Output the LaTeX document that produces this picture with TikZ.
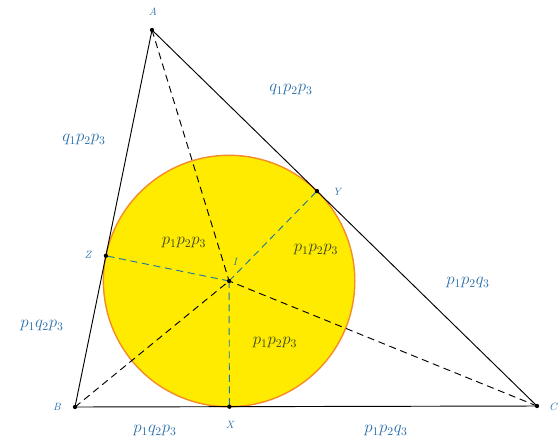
\documentclass[tikz,border=0pt]{standalone}
\usetikzlibrary{calc}
\definecolor{lblue}{RGB}{40,110,170}
\definecolor{dblue}{RGB}{30,120,160}
\definecolor{inlab}{RGB}{60,70,30}
\definecolor{circfill}{RGB}{255,235,0}
\definecolor{circedge}{RGB}{245,140,40}
\begin{document}
\begin{tikzpicture}[x=0.03cm,y=-0.03cm,
  dot/.style={circle,fill=black,inner sep=1.3pt},
  vlab/.style={text=lblue,font=\small\itshape},
  outlab/.style={text=lblue,font=\Large},
  inlab/.style={text=inlab,font=\Large},
  bdash/.style={dashed,dash pattern=on 6pt off 4pt,thick},
  cdash/.style={dashed,dash pattern=on 6pt off 4pt,thick,dblue}]
\useasboundingbox (0,0) rectangle (558,439);
\coordinate (A) at (152,30);
\coordinate (B) at (75,407);
\coordinate (C) at (537,406);
\coordinate (I) at (229.1,281);
\coordinate (X) at ($(B)!(I)!(C)$);
\coordinate (Y) at ($(C)!(I)!(A)$);
\coordinate (Z) at ($(A)!(I)!(B)$);
\fill[circfill,draw=circedge,line width=1.2pt] (I) circle (125.7);
\draw[thick] (A) -- (B) -- (C) -- cycle;
\draw[bdash] (A) -- (I);
\draw[bdash] (B) -- (I);
\draw[bdash] (C) -- (I);
\draw[cdash] (I) -- (X);
\draw[cdash] (I) -- (Y);
\draw[cdash] (I) -- (Z);
\foreach \p in {A,B,C,X,Y,Z,I} \node[dot] (d\p) at (\p) {};
\node[vlab] (lA) at (153,12) {A};
\node[vlab] (lB) at (57,407) {B};
\node[vlab] (lC) at (553,407) {C};
\node[vlab] (lX) at (230,425) {X};
\node[vlab] (lY) at (337,192) {Y};
\node[vlab] (lZ) at (88,255) {Z};
\node[vlab] (lI) at (235,262) {I};
\node[outlab] (t1) at (84,140) {$q_1p_2p_3$};
\node[outlab] (t2) at (291,90) {$q_1p_2p_3$};
\node[outlab] (t3) at (42,326) {$p_1q_2p_3$};
\node[outlab] (t4) at (468,283) {$p_1p_2q_3$};
\node[outlab] (t5) at (155,431) {$p_1q_2p_3$};
\node[outlab] (t6) at (386,431) {$p_1p_2q_3$};
\node[inlab] (u1) at (184,243) {$p_1p_2p_3$};
\node[inlab] (u2) at (316,250) {$p_1p_2p_3$};
\node[inlab] (u3) at (275,343) {$p_1p_2p_3$};
\end{tikzpicture}
\end{document}
